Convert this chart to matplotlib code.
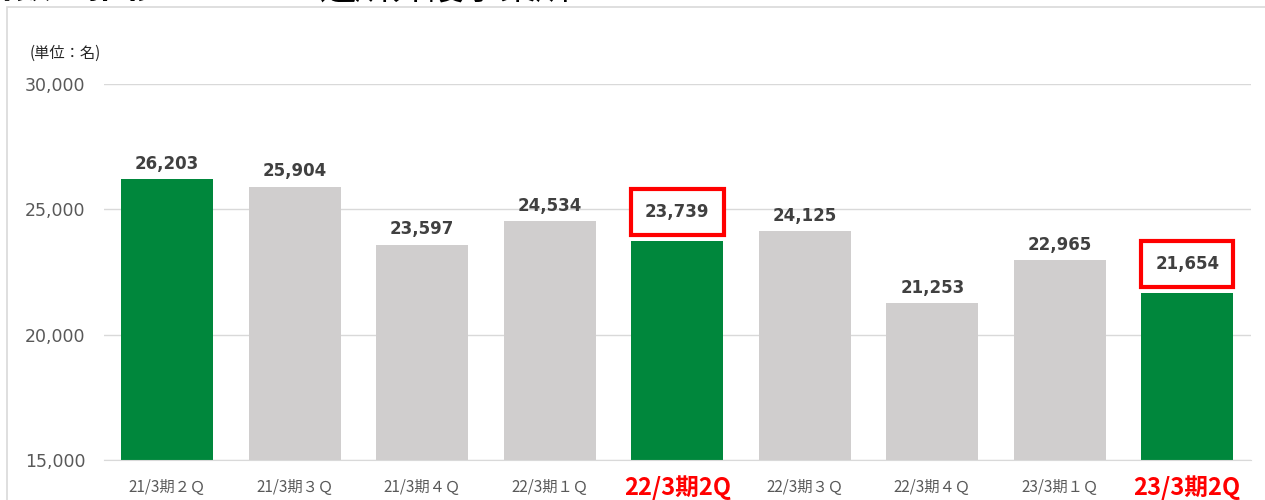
import matplotlib.pyplot as plt
from matplotlib.patches import Rectangle

plt.rcParams['font.family'] = ['Noto Sans CJK JP', 'DejaVu Sans']

quarters = ["21/3期２Ｑ", "21/3期３Ｑ", "21/3期４Ｑ", "22/3期１Ｑ", "22/3期2Q",
            "22/3期３Ｑ", "22/3期４Ｑ", "23/3期１Ｑ", "23/3期2Q"]
users = [26203, 25904, 23597, 24534, 23739, 24125, 21253, 22965, 21654]
highlight = [True, False, False, False, True, False, False, False, True]
boxed = [False, False, False, False, True, False, False, False, True]

green = "#00873C"
gray = "#D0CECE"

fig = plt.figure(figsize=(12.65, 5), dpi=100)
ax = fig.add_axes([103.5 / 1265, 40 / 500, (1251 - 103.5) / 1265, 376 / 500])

x = range(len(users))
colors = [green if h else gray for h in highlight]
ax.bar(x, users, width=0.72, color=colors, zorder=2)

for i, v in enumerate(users):
    if boxed[i]:
        ax.annotate(f"{v:,}", (i, v), xytext=(0, 21), textcoords="offset points",
                    ha="center", va="center", fontsize=12, fontweight="bold",
                    color="#404040", family="DejaVu Sans",
                    bbox=dict(boxstyle="square,pad=0.85", fc="white", ec="red", lw=3))
    else:
        ax.annotate(f"{v:,}", (i, v), xytext=(0, 11), textcoords="offset points",
                    ha="center", va="center", fontsize=12, fontweight="bold",
                    color="#404040", family="DejaVu Sans")

ax.set_ylim(15000, 30000)
ax.set_xlim(-0.5, len(users) - 0.5)
ax.set_yticks([15000, 20000, 25000, 30000])
ax.set_yticklabels([f"{t:,}" for t in [15000, 20000, 25000, 30000]],
                   family="DejaVu Sans")
ax.yaxis.grid(True, color="#D9D9D9", lw=1, zorder=0)
ax.tick_params(axis="y", length=0, pad=13, labelsize=12.5, labelcolor="#595959")
ax.tick_params(axis="x", length=0, pad=20)
ax.set_xticks(list(x))
ax.set_xticklabels(quarters)
for lbl, h in zip(ax.get_xticklabels(), highlight):
    lbl.set_va("center")
    if h and lbl.get_text().endswith("2Q"):
        lbl.set_color("red")
        lbl.set_fontweight("bold")
        lbl.set_fontsize(17)
    else:
        lbl.set_color("#595959")
        lbl.set_fontsize(11)
for s in ["top", "right", "left"]:
    ax.spines[s].set_visible(False)
ax.spines["bottom"].set_color("#D9D9D9")

fig.text(30 / 1265, 1 - 53 / 500, "(単位：名)", fontsize=11, color="#262626",
         ha="left", va="center")

# clipped page title above the chart frame
fig.text(160 / 1265, 1 - 7 / 500, "利用者数の推移", fontsize=26, fontweight="bold",
         ha="right", va="bottom")
fig.text(320 / 1265, 1 - 7 / 500, "通所介護事業所", fontsize=26,
         ha="left", va="bottom")

fig.patches.append(Rectangle((7 / 1265, -0.1), 1.2, 1 - 7 / 500 + 0.1,
                             transform=fig.transFigure, fill=False,
                             ec="#D9D9D9", lw=1.2))

fig.savefig("out.png", dpi=100)
